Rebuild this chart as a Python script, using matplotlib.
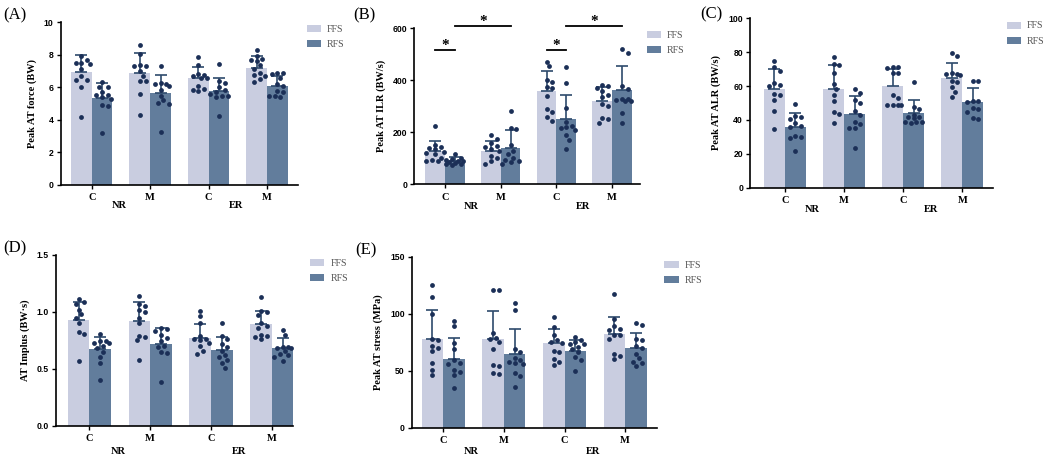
import numpy as np
import matplotlib.pyplot as plt
from matplotlib.patches import Patch

# figure is 1049 x 462 px
W, H = 1049, 462
fig = plt.figure(figsize=(W / 100, H / 100), dpi=100)
fig.patch.set_facecolor('white')

SERIF = ['Liberation Serif', 'DejaVu Serif']
SANS = ['Liberation Sans', 'DejaVu Sans']

FFS_COLOR = '#c9cde0'
RFS_COLOR = '#627d9c'
DOT_COLOR = '#1b2f57'
ERR_COLOR = '#2e4a6c'

# -----------------------------------------------------------------------------
# data
# -----------------------------------------------------------------------------
groups = ['C', 'M', 'C', 'M']
conditions = ['NR', 'ER']
series = ['FFS', 'RFS']

# (A) Peak AT force (BW)
a_ffs_mean = [6.92, 6.88, 6.55, 7.22]
a_ffs_sd = [1.06, 1.22, 0.70, 0.71]
a_rfs_mean = [5.35, 5.68, 5.78, 6.09]
a_rfs_sd = [0.90, 1.07, 0.82, 0.63]
a_ffs_pts = [[7.9, 7.5, 7.5, 7.45, 7.7, 7.1, 6.7, 6.45, 6.45, 6.05, 4.15],
             [8.6, 8.05, 7.35, 7.3, 7.3, 7.0, 6.7, 6.4, 6.4, 5.6, 4.3],
             [7.85, 7.4, 6.8, 6.75, 6.7, 6.6, 6.6, 6.1, 5.9, 5.85, 5.75],
             [8.3, 7.9, 7.75, 7.7, 7.65, 7.35, 7.1, 6.9, 6.75, 6.7, 6.5, 6.3]]
a_rfs_pts = [[6.3, 6.05, 6.0, 5.7, 5.55, 5.55, 5.4, 5.3, 4.9, 4.85, 3.2],
             [7.3, 6.25, 6.2, 6.2, 6.1, 5.85, 5.5, 5.2, 5.05, 5.0, 3.25],
             [7.45, 6.4, 6.25, 6.0, 5.85, 5.7, 5.6, 5.5, 5.45, 5.4, 4.25],
             [6.9, 6.9, 6.85, 6.6, 6.2, 6.1, 5.8, 5.7, 5.5, 5.45, 5.4]]

# (B) Peak AT ILR (BW/s)
b_ffs_mean = [128, 129, 360, 320]
b_ffs_sd = [39, 38, 74, 54]
b_rfs_mean = [88, 139, 253, 362]
b_rfs_sd = [16, 69, 92, 94]
b_ffs_pts = [[226, 150, 145, 140, 135, 125, 120, 115, 100, 95, 90, 88],
             [190, 175, 160, 148, 145, 135, 130, 110, 100, 90, 80],
             [472, 455, 400, 395, 375, 370, 340, 290, 280, 260, 245],
             [382, 378, 370, 360, 345, 335, 310, 300, 255, 250, 235]]
b_rfs_pts = [[115, 100, 98, 95, 90, 88, 85, 82, 80, 78, 75],
             [283, 215, 212, 150, 130, 115, 100, 95, 90, 85, 80],
             [450, 390, 295, 240, 225, 220, 215, 210, 190, 170, 135],
             [520, 505, 380, 365, 330, 328, 325, 322, 320, 275, 235]]
# significance: (group, series) -> (group, series), line height
b_sig_from = [(0, 0), (0, 1), (2, 0), (2, 1)]
b_sig_to = [(0, 1), (1, 1), (2, 1), (3, 1)]
b_sig_y = [515, 610, 515, 610]

# (C) Peak AT ALR (BW/s)
c_ffs_mean = [58.1, 58.5, 60.2, 65.0]
c_ffs_sd = [11.8, 13.9, 9.7, 8.4]
c_rfs_mean = [36.0, 43.3, 43.9, 50.8]
c_rfs_sd = [7.9, 10.8, 7.7, 7.9]
c_ffs_pts = [[75, 71.5, 69, 62, 60.5, 60, 55.5, 54.5, 52, 45.5, 34.5],
             [77, 73, 72.5, 67.5, 61.5, 58.5, 54.5, 51, 44.5, 43.5, 38],
             [71, 71, 70.5, 67.5, 67.5, 55, 53, 49, 49, 49, 49],
             [79.5, 77.5, 67.5, 67, 67, 66.5, 63, 62.5, 59.5, 56.5, 53.5]]
c_rfs_pts = [[49.5, 42.5, 42, 40.5, 38, 36.5, 36, 30.5, 30, 29.5, 21.5],
             [58, 56, 52, 50, 45, 43, 39, 37.5, 35.5, 35, 23.5],
             [62.5, 47.5, 46.5, 43, 42, 41.5, 41, 39, 38.5, 38.5, 38],
             [63, 63, 51, 51, 50.5, 47, 46.5, 44.5, 41, 40.5]]

# (D) AT impulse (BW*s)
d_ffs_mean = [0.93, 0.92, 0.77, 0.89]
d_ffs_sd = [0.155, 0.165, 0.12, 0.12]
d_rfs_mean = [0.67, 0.72, 0.665, 0.68]
d_rfs_sd = [0.11, 0.14, 0.115, 0.09]
d_ffs_pts = [[1.11, 1.09, 1.07, 1.02, 0.98, 0.95, 0.90, 0.82, 0.81, 0.57],
             [1.14, 1.07, 1.05, 1.02, 1.0, 0.95, 0.90, 0.79, 0.78, 0.75, 0.58],
             [1.01, 0.96, 0.90, 0.79, 0.76, 0.76, 0.75, 0.73, 0.70, 0.66, 0.63],
             [1.13, 1.01, 1.00, 0.97, 0.90, 0.88, 0.86, 0.80, 0.79, 0.78, 0.76]]
d_rfs_pts = [[0.81, 0.74, 0.74, 0.73, 0.73, 0.70, 0.68, 0.65, 0.60, 0.55, 0.40],
             [0.86, 0.85, 0.83, 0.80, 0.77, 0.74, 0.70, 0.69, 0.65, 0.64, 0.38],
             [0.90, 0.79, 0.76, 0.72, 0.69, 0.66, 0.62, 0.60, 0.58, 0.55, 0.51],
             [0.84, 0.80, 0.69, 0.69, 0.68, 0.68, 0.66, 0.63, 0.62, 0.60, 0.57]]

# (E) Peak AT stress (MPa)
e_ffs_mean = [77.8, 77.5, 74.0, 82.0]
e_ffs_sd = [25.5, 24.5, 13.0, 15.5]
e_rfs_mean = [60.0, 64.3, 67.5, 69.6]
e_rfs_sd = [19.0, 22.7, 9.5, 13.5]
e_ffs_pts = [[125, 115, 100, 78, 77, 72, 70, 67, 57, 51, 46],
             [121, 121, 83, 79, 78, 75, 69, 55, 54, 48, 47],
             [97, 88, 81, 77, 75, 74, 67, 66, 60, 58, 55],
             [117, 95, 89, 87, 86, 81, 81, 78, 65, 63, 60]]
e_rfs_pts = [[94, 89, 74, 69, 59, 57, 56, 51, 49, 46, 35],
             [109, 103, 69, 66, 61, 59, 58, 57, 56, 48, 45, 36],
             [80, 77, 75, 73, 73, 71, 69, 66, 62, 59, 50],
             [92, 90, 78, 77, 72, 70, 65, 61, 58, 57, 54]]

BAR_W = 0.355


def swarm_offsets(ax, xc, vals, dot_px=5.2):
    """beeswarm kept inside the bar: spread near-equal values sideways"""
    order = np.argsort(vals)[::-1]
    to_px = ax.transData
    px_per_x = to_px.transform((1, 0))[0] - to_px.transform((0, 0))[0]
    half = BAR_W * px_per_x / 2 - 1.0
    step = dot_px * 0.55
    cands = [0.0]
    k = 1
    while k * step <= half:
        cands += [k * step, -k * step]
        k += 1
    placed = []
    offs = np.zeros(len(vals))
    for i in order:
        py = to_px.transform((xc, vals[i]))[1]
        best, best_d = 0.0, -1.0
        for dx in cands:
            dmin = min([np.hypot(dx - qx, py - qy) for qx, qy in placed] + [99.0])
            if dmin >= dot_px:
                best = dx
                break
            if dmin > best_d:
                best, best_d = dx, dmin
        placed.append((best, py))
        offs[i] = best / px_per_x
    return offs


def panel(rect, letter, letter_xy, ylabel, ylim, yticks, yfmt, xlim,
          ffs_mean, ffs_sd, rfs_mean, rfs_sd, ffs_pts, rfs_pts,
          leg_xy, cond_dy):
    l, r, t, b = rect
    ax = fig.add_axes([l / W, 1 - b / H, (r - l) / W, (b - t) / H])
    x = np.arange(len(groups))
    ax.set_xlim(*xlim)
    ax.set_ylim(*ylim)

    means = [ffs_mean, rfs_mean]
    sds = [ffs_sd, rfs_sd]
    pts = [ffs_pts, rfs_pts]
    colors = [FFS_COLOR, RFS_COLOR]
    for s in range(2):
        xs = x + (s - 0.5) * BAR_W
        ax.bar(xs, means[s], width=BAR_W, color=colors[s], zorder=1, label=series[s])
        ax.errorbar(xs, means[s], yerr=[np.zeros(4), sds[s]], fmt='none',
                    ecolor=ERR_COLOR, elinewidth=1.2, capsize=4, capthick=1.2, zorder=2)
        for g in range(len(groups)):
            vals = np.array(pts[s][g], dtype=float)
            offs = swarm_offsets(ax, xs[g], vals)
            ax.scatter(xs[g] + offs, vals, s=12, color=DOT_COLOR, linewidths=0, zorder=3)

    for side in ['top', 'right']:
        ax.spines[side].set_visible(False)
    for side in ['left', 'bottom']:
        ax.spines[side].set_linewidth(1.2)
    ax.set_yticks(yticks)
    ax.set_yticklabels([yfmt.format(v) for v in yticks], family=SANS,
                       fontweight='bold', fontsize=6.2)
    ax.set_xticks(x)
    ax.set_xticklabels(groups, family=SERIF, fontweight='bold', fontsize=7.5)
    ax.tick_params(axis='both', length=3, width=1, pad=2)
    ax.tick_params(axis='x', pad=3)
    ax.set_ylabel(ylabel, family=SERIF, fontweight='bold', fontsize=7.5, labelpad=5)

    for c, cond in enumerate(conditions):
        ax.annotate(cond, xy=(2 * c + 0.47, 0), xycoords=ax.get_xaxis_transform(),
                    xytext=(0, -cond_dy), textcoords='offset pixels',
                    ha='center', va='center', family=SERIF, fontweight='bold',
                    fontsize=7.5)

    fig.text(letter_xy[0] / W, 1 - letter_xy[1] / H, letter, family=SERIF,
             fontsize=12, ha='left', va='center')

    handles = [Patch(facecolor=FFS_COLOR), Patch(facecolor=RFS_COLOR)]
    leg = ax.legend(handles, series, loc='upper left',
                    bbox_to_anchor=(leg_xy[0] / W, 1 - leg_xy[1] / H),
                    bbox_transform=fig.transFigure, frameon=False,
                    borderpad=0, borderaxespad=0, handlelength=1.45,
                    handleheight=0.7, handletextpad=0.6, labelspacing=0.62,
                    prop={'family': SERIF, 'size': 7.2})
    for txt in leg.get_texts():
        txt.set_color('#555555')
    return ax


ax_a = panel((60.5, 298, 22.3, 185), '(A)', (3, 15), 'Peak AT force (BW)',
             (0, 10), [0, 2, 4, 6, 8, 10], '{:g}', (-0.535, 3.53),
             a_ffs_mean, a_ffs_sd, a_rfs_mean, a_rfs_sd, a_ffs_pts, a_rfs_pts,
             (306.5, 24.5), 21)

ax_b = panel((414.3, 640, 28.3, 184.3), '(B)', (353, 15), 'Peak AT ILR (BW/s)',
             (0, 600), [0, 200, 400, 600], '{:g}', (-0.55, 3.5),
             b_ffs_mean, b_ffs_sd, b_rfs_mean, b_rfs_sd, b_ffs_pts, b_rfs_pts,
             (646.5, 30.5), 22)

ax_c = panel((750, 993, 18.3, 187.7), '(C)', (700, 14), 'Peak AT ALR (BW/s)',
             (0, 100), [0, 20, 40, 60, 80, 100], '{:g}', (-0.59, 3.52),
             c_ffs_mean, c_ffs_sd, c_rfs_mean, c_rfs_sd, c_ffs_pts, c_rfs_pts,
             (1006.5, 21.5), 22)

ax_d = panel((56, 293, 255, 425.7), '(D)', (3, 248), 'AT Implus (BW\u00b7s)',
             (0, 1.5), [0.0, 0.5, 1.0, 1.5], '{:.1f}', (-0.55, 3.35),
             d_ffs_mean, d_ffs_sd, d_rfs_mean, d_rfs_sd, d_ffs_pts, d_rfs_pts,
             (310, 258.5), 26)

ax_e = panel((411.7, 657.3, 256.7, 427.7), '(E)', (355, 250), 'Peak AT stress (MPa)',
             (0, 150), [0, 50, 100, 150], '{:g}', (-0.52, 3.53),
             e_ffs_mean, e_ffs_sd, e_rfs_mean, e_rfs_sd, e_ffs_pts, e_rfs_pts,
             (664, 261), 24)

# significance brackets on panel B
for (g1, s1), (g2, s2), yv in zip(b_sig_from, b_sig_to, b_sig_y):
    x1 = g1 + (s1 - 0.5) * BAR_W
    x2 = g2 + (s2 - 0.5) * BAR_W
    ax_b.plot([x1, x2], [yv, yv], color='black', lw=1.3, clip_on=False, zorder=4)
    ax_b.annotate('*', xy=((x1 + x2) / 2, yv), xytext=(0, 1), textcoords='offset pixels',
                  ha='center', va='baseline', fontsize=11, fontweight='bold',
                  family=SERIF, annotation_clip=False)

plt.savefig('out.png', dpi=100, facecolor='white')
